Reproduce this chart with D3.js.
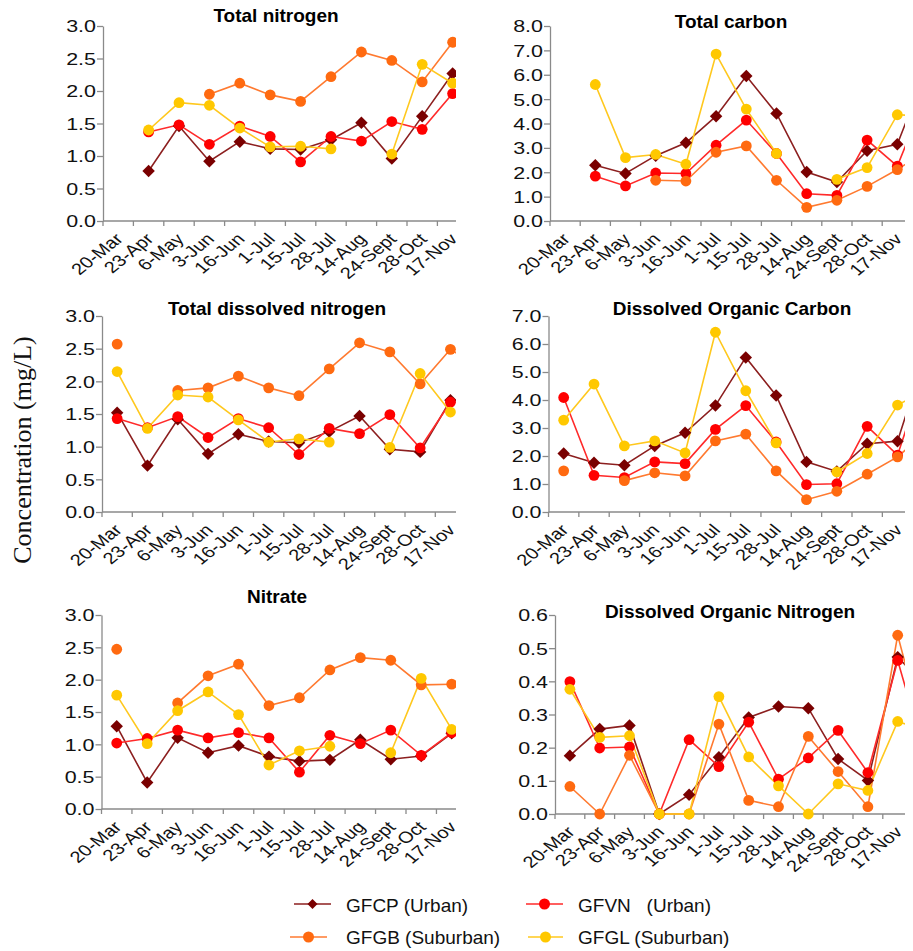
<!DOCTYPE html>
<html><head><meta charset="utf-8">
<script src="https://cdn.jsdelivr.net/npm/d3@7"></script>
<style>body{margin:0;background:#fff} svg{display:block}</style>
</head><body>
<svg id="c" width="913" height="951"></svg>
<script>
// ---------- DATA ----------
const categories = ["20-Mar","23-Apr","6-May","3-Jun","16-Jun","1-Jul","15-Jul","28-Jul","14-Aug","24-Sept","28-Oct","17-Nov",""];
const seriesNames = ["GFCP (Urban)", "GFVN   (Urban)", "GFGB (Suburban)", "GFGL (Suburban)"];

const tnGFCP = [null,0.77,1.46,0.92,1.22,1.11,1.10,1.25,1.51,0.96,1.61,2.27,null];
const tnGFVN = [null,1.37,1.48,1.18,1.46,1.30,0.91,1.30,1.23,1.53,1.41,1.96,null];
const tnGFGB = [null,null,null,1.95,2.12,1.94,1.84,2.22,2.60,2.47,2.14,2.75,null];
const tnGFGL = [null,1.40,1.82,1.78,1.43,1.14,1.15,1.11,null,1.03,2.41,2.12,null];

const tcGFCP = [null,2.29,1.95,2.68,3.21,4.30,5.95,4.41,2.01,1.60,2.88,3.15,6.3];
const tcGFVN = [null,1.84,1.44,1.97,1.95,3.11,4.14,2.77,1.12,1.05,3.32,2.25,5.3];
const tcGFGB = [null,null,null,1.67,1.64,2.82,3.08,1.67,0.56,0.85,1.42,2.11,2.9];
const tcGFGL = [null,5.60,2.60,2.73,2.33,6.85,4.59,2.77,null,1.71,2.19,4.36,4.3];

const tdnGFCP = [1.52,0.71,1.42,0.89,1.19,1.08,1.06,1.23,1.47,0.96,0.92,1.71,null];
const tdnGFVN = [1.43,1.29,1.46,1.14,1.43,1.29,0.88,1.28,1.20,1.49,0.98,1.68,null];
const tdnGFGB = [2.57,null,1.86,1.90,2.08,1.90,1.78,2.19,2.59,2.45,1.96,2.49,2.2];
const tdnGFGL = [2.15,1.28,1.79,1.76,1.41,1.07,1.12,1.07,null,0.99,2.12,1.53,null];

const docGFCP = [2.09,1.76,1.67,2.36,2.83,3.80,5.52,4.16,1.79,1.45,2.44,2.53,5.9];
const docGFVN = [4.09,1.31,1.23,1.79,1.73,2.95,3.80,2.50,0.98,1.01,3.06,2.03,5.3];
const docGFGB = [1.47,null,1.12,1.40,1.29,2.54,2.78,1.47,0.44,0.74,1.35,1.97,2.9];
const docGFGL = [3.28,4.57,2.36,2.54,2.11,6.42,4.33,2.47,null,1.43,2.09,3.82,4.4];

const no3GFCP = [1.28,0.41,1.10,0.87,0.98,0.81,0.74,0.76,1.07,0.77,0.82,1.17,null];
const no3GFVN = [1.02,1.09,1.22,1.10,1.18,1.10,0.57,1.14,1.01,1.22,0.83,1.18,null];
const no3GFGB = [2.47,null,1.64,2.06,2.24,1.60,1.72,2.15,2.34,2.30,1.92,1.93,null];
const no3GFGL = [1.76,1.01,1.52,1.81,1.46,0.68,0.90,0.97,null,0.87,2.02,1.23,null];

const donGFCP = [0.176,0.256,0.267,0.0,0.058,0.171,0.291,0.324,0.319,0.166,0.101,0.473,0.38];
const donGFVN = [0.399,0.199,0.202,0.0,0.224,0.143,0.277,0.105,0.169,0.252,0.125,0.463,0.15];
const donGFGB = [0.083,0.0,0.177,0.0,0.0,0.271,0.041,0.022,0.234,0.128,0.022,0.539,0.2];
const donGFGL = [0.376,0.231,0.236,0.0,0.0,0.354,0.172,0.085,0.0,0.091,0.071,0.279,0.25];

// ---------- STYLE / LAYOUT ----------
const markerFill = ["#7a0000","#ff0000","#ff6a10","#ffc800"];
const lineColor  = ["#8c1f1f","#ff2a2a","#ff7a30","#ffc81e"];
const markerType = ["diamond","circle","circle","circle"];

const panels = [
  {title:"Total nitrogen", data:[tnGFCP,tnGFVN,tnGFGB,tnGFGL], yMax:3, yStep:0.5, left:103, top:26, bottom:221, band:30.4, clipRight:456, tx:276, ty:22},
  {title:"Total carbon", data:[tcGFCP,tcGFVN,tcGFGB,tcGFGL], yMax:8, yStep:1, left:550, top:26, bottom:221, band:30.2, clipRight:905, tx:731, ty:28},
  {title:"Total dissolved nitrogen", data:[tdnGFCP,tdnGFVN,tdnGFGB,tdnGFGL], yMax:3, yStep:0.5, left:102, top:316, bottom:512, band:30.3, clipRight:456, tx:277, ty:315},
  {title:"Dissolved Organic Carbon", data:[docGFCP,docGFVN,docGFGB,docGFGL], yMax:7, yStep:1, left:548.5, top:316, bottom:512, band:30.35, clipRight:905, tx:732, ty:315},
  {title:"Nitrate", data:[no3GFCP,no3GFVN,no3GFGB,no3GFGL], yMax:3, yStep:0.5, left:101.5, top:615, bottom:809, band:30.45, clipRight:456, tx:277, ty:603},
  {title:"Dissolved Organic Nitrogen", data:[donGFCP,donGFVN,donGFGB,donGFGL], yMax:0.6, yStep:0.1, left:555, top:615, bottom:814, band:29.8, clipRight:905, tx:730, ty:618}
];

const svg = d3.select("#c");
const FONT = "'Liberation Sans', Arial, sans-serif";
const axisColor = "#8a8a8a";

function drawMarker(sel, type, fill, r) {
  if (type === "diamond") {
    sel.append("path")
      .attr("d", d3.symbol(d3.symbolSquare, (r*1.42)*(r*1.42))())
      .attr("transform", "rotate(45)")
      .attr("fill", fill);
  } else {
    sel.append("circle").attr("r", r).attr("fill", fill);
  }
}

panels.forEach((p, pi) => {
  const g = svg.append("g");
  const x = d3.scaleBand().domain(categories).range([p.left, p.left + p.band*categories.length]).padding(0);
  const y = d3.scaleLinear().domain([0, p.yMax]).range([p.bottom, p.top]);
  const ticks = d3.range(0, p.yMax + p.yStep/2, p.yStep);

  const clipId = "clip" + pi;
  svg.append("clipPath").attr("id", clipId).append("rect")
    .attr("x", p.left - 20).attr("y", p.top - 30)
    .attr("width", p.clipRight - p.left + 20).attr("height", p.bottom - p.top + 45);

  // y axis
  const ya = g.append("g").attr("transform", `translate(${p.left},0)`)
    .call(d3.axisLeft(y).tickValues(ticks).tickSize(6).tickSizeOuter(0).tickFormat(d3.format(".1f")));
  ya.select(".domain").attr("stroke", axisColor).attr("stroke-width", 1.3);
  ya.selectAll(".tick line").attr("stroke", axisColor).attr("stroke-width", 1.3);
  ya.selectAll(".tick text")
    .attr("x", 0).attr("dy", "0.36em")
    .attr("transform", "translate(-7,0) scale(1.3,1)")
    .style("font-family", FONT).style("font-size", "16.5px").attr("fill", "#111");

  // x axis
  const xa = g.append("g").attr("transform", `translate(0,${p.bottom})`)
    .call(d3.axisBottom(x).tickSize(0).tickSizeOuter(0).tickFormat(d => d));
  xa.select(".domain").attr("d", `M${p.left},0H${p.clipRight}`).attr("stroke", axisColor).attr("stroke-width", 1.3);
  xa.selectAll(".tick text")
    .attr("x", 0).attr("y", 0).attr("dy", null)
    .style("text-anchor", "end")
    .attr("transform", "translate(6,19) scale(1.25,1) rotate(-45)")
    .style("font-family", FONT).style("font-size", "16px").attr("fill", "#111");
  // boundary tick marks
  const bounds = categories.map(c => x(c)).concat([x.range()[1]]).filter(v => v <= p.clipRight);
  xa.selectAll(".bt").data(bounds).enter().append("line")
    .attr("x1", d => d).attr("x2", d => d).attr("y1", 0).attr("y2", 5)
    .attr("stroke", axisColor).attr("stroke-width", 1.3);

  // series
  const plot = g.append("g").attr("clip-path", `url(#${clipId})`);
  const cx = c => x(c) + x.bandwidth()/2;
  p.data.forEach((vals, si) => {
    const pts = categories.map((c, i) => ({c, v: vals[i]}));
    const line = d3.line().defined(d => d.v != null).x(d => cx(d.c)).y(d => y(d.v));
    plot.append("path").datum(pts).attr("d", line)
      .attr("fill", "none").attr("stroke", lineColor[si]).attr("stroke-width", 1.6);
  });
  p.data.forEach((vals, si) => {
    const pts = categories.map((c, i) => ({c, v: vals[i]})).filter(d => d.v != null);
    pts.forEach(d => {
      const m = plot.append("g").attr("transform", `translate(${cx(d.c)},${y(d.v)})`);
      drawMarker(m, markerType[si], markerFill[si], markerType[si] === "diamond" ? 6.2 : 5.4);
    });
  });

  // title
  g.append("text").attr("x", p.tx).attr("y", p.ty).attr("text-anchor", "middle")
    .style("font-family", FONT).style("font-weight", "bold").style("font-size", "19px")
    .attr("fill", "#000").text(p.title);
});

// y-axis label
svg.append("text").attr("transform", "translate(22,450) rotate(-90)")
  .attr("text-anchor", "middle").attr("dominant-baseline", "central")
  .style("font-family", "'Liberation Serif', 'Times New Roman', serif").style("font-size", "26px")
  .attr("fill", "#111").text("Concentration (mg/L)");

// legend
const legendItems = [
  {x1:294, x2:331, y:904, tx:346, ty:912},
  {x1:526, x2:563, y:904, tx:578, ty:912},
  {x1:290, x2:327, y:937, tx:346, ty:944},
  {x1:528, x2:563, y:937, tx:578, ty:944}
];
legendItems.forEach((L, i) => {
  const lg = svg.append("g");
  lg.append("line").attr("x1", L.x1).attr("x2", L.x2).attr("y1", L.y).attr("y2", L.y)
    .attr("stroke", lineColor[i]).attr("stroke-width", 1.6);
  const m = lg.append("g").attr("transform", `translate(${(L.x1+L.x2)/2},${L.y})`);
  drawMarker(m, markerType[i], markerFill[i], markerType[i] === "diamond" ? 5 : 5.5);
  lg.append("text").attr("x", L.tx).attr("y", L.ty)
    .style("font-family", FONT).style("font-size", "19px").style("white-space", "pre")
    .attr("xml:space", "preserve").attr("fill", "#111").text(seriesNames[i]);
});
</script>
</body></html>
